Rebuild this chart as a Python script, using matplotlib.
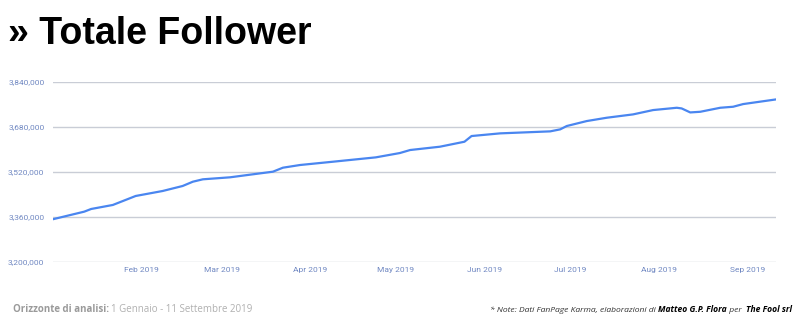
import matplotlib
matplotlib.use("Agg")
import matplotlib.pyplot as plt
import matplotlib.dates as mdates
import matplotlib.ticker as mticker
import numpy as np

# days since 1 Jan 2019 and total followers
days = [0, 11, 13.4, 21, 29, 38.4, 45.4, 49, 52.5, 62, 70, 77, 80.5, 86.5, 98,
        113, 121.4, 125, 135.4, 144, 146.5, 156.5, 174, 177.5, 179.8, 186.8,
        193.8, 203, 210, 218.3, 220, 223, 226.5, 233.5, 238, 241.5, 253]
followers = [3351800, 3378900, 3388400, 3402700, 3434700, 3452400, 3470200,
             3485500, 3494000, 3501100, 3511800, 3521100, 3535300, 3544900,
             3556600, 3572100, 3587500, 3598200, 3610000, 3627700, 3648000,
             3657500, 3664600, 3671700, 3683600, 3701300, 3713100, 3725000,
             3740400, 3748600, 3746200, 3732000, 3734300, 3748600, 3752200,
             3761700, 3778300]
y_ticks = [3200000, 3360000, 3520000, 3680000, 3840000]
month_ticks = ["2019-02-01", "2019-03-01", "2019-04-01", "2019-05-01",
               "2019-06-01", "2019-07-01", "2019-08-01", "2019-09-01"]

dates = np.datetime64("2019-01-01") + np.array([int(round(d * 24)) for d in days]).astype("timedelta64[h]")

fig = plt.figure(figsize=(8, 3.27), dpi=100)
ax = fig.add_axes([0.066, 0.199, 0.904, 0.55])

ax.plot(dates, followers, color="#4a86f0", linewidth=1.6, solid_capstyle="round")

ax.set_ylim(3200000, 3840000)
ax.set_xlim(np.datetime64("2019-01-01"), np.datetime64("2019-09-11"))
ax.set_yticks(y_ticks)
ax.yaxis.set_major_formatter(mticker.FuncFormatter(lambda v, p: "{:,.0f}".format(v)))
ax.set_xticks([np.datetime64(m) for m in month_ticks])
ax.xaxis.set_major_formatter(mdates.DateFormatter("%b %Y"))

ax.grid(axis="y", color="#c9cdd6", linewidth=1)
ax.set_axisbelow(True)
for s in ax.spines.values():
    s.set_visible(False)
ax.tick_params(length=0, labelsize=6, labelcolor="#7088c2")
ax.tick_params(axis="x", pad=4)
ax.tick_params(axis="y", pad=6)
for lab in ax.get_xticklabels() + ax.get_yticklabels():
    lab.set_fontfamily("Roboto")

# title
fig.text(0.01, 0.865, "» Totale Follower", fontsize=27, fontweight="bold",
         family="Liberation Sans", color="black", va="baseline")


def put_pieces(pieces, x, y, ha="left"):
    """write text pieces one after another on the same line"""
    renderer = fig.canvas.get_renderer()
    texts = []
    for txt, kw in pieces:
        t = fig.text(0, y, txt, va="baseline", **kw)
        texts.append(t)
    widths = [t.get_window_extent(renderer).width / fig.bbox.width for t in texts]
    start = x if ha == "left" else x - sum(widths)
    for t, w in zip(texts, widths):
        t.set_x(start)
        start += w


fs = 7
put_pieces([
    ("Orizzonte di analisi: ", dict(fontsize=fs, fontweight="bold", color="#9a9a9a", family="Open Sans")),
    ("1 Gennaio - 11 Settembre 2019", dict(fontsize=fs, color="#b0b0b0", family="Open Sans")),
], 0.016, 0.045)

fs2 = 6.1
put_pieces([
    ("* Note: Dati FanPage Karma, elaborazioni di ", dict(fontsize=fs2, style="italic", color="#333333", family="Open Sans")),
    ("Matteo G.P. Flora", dict(fontsize=fs2, style="italic", fontweight="bold", color="black", family="Open Sans")),
    (" per  ", dict(fontsize=fs2, style="italic", color="#333333", family="Open Sans")),
    ("The Fool srl", dict(fontsize=fs2, style="italic", fontweight="bold", color="black", family="Open Sans")),
], 0.99, 0.045, ha="right")

fig.savefig("out.png", dpi=100)
